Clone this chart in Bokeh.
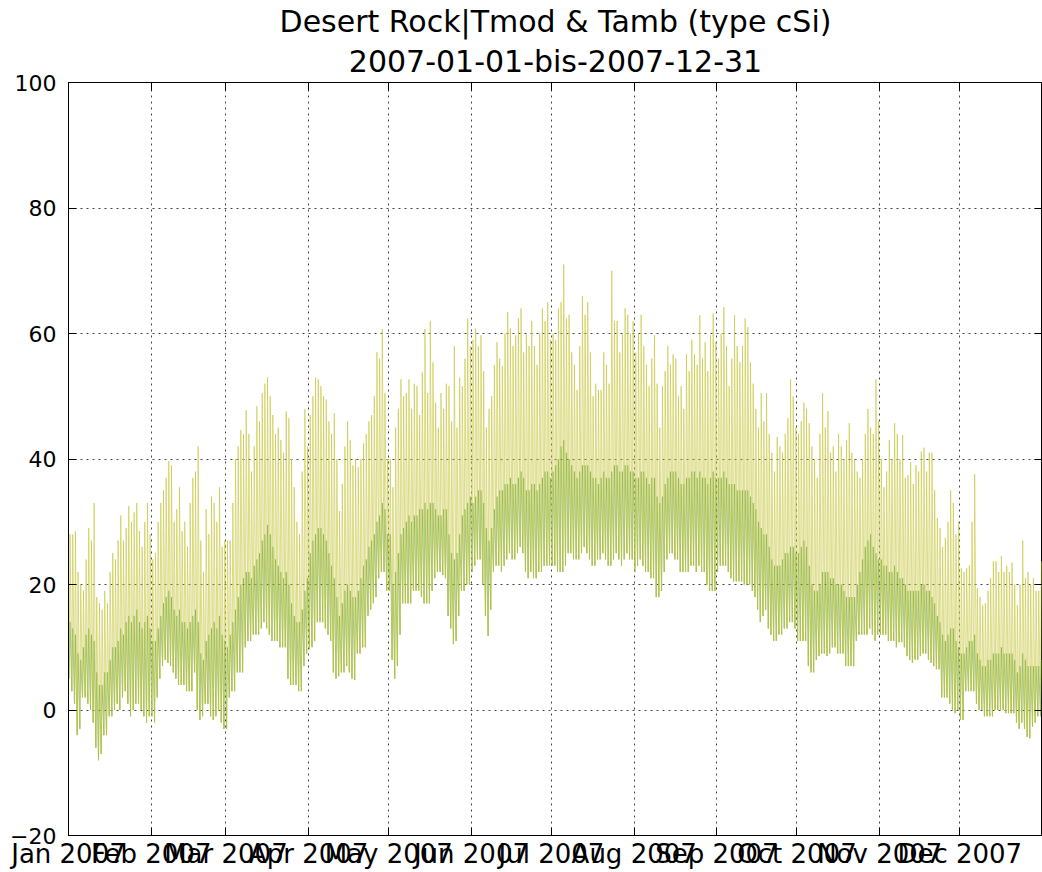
import numpy as np
import pandas as pd
from bokeh.plotting import figure
from bokeh.models import Range1d, FixedTicker, Title, LinearAxis, DatetimeAxis
from bokeh.embed import file_html
from bokeh.resources import INLINE

title_line1 = "Desert Rock|Tmod & Tamb (type cSi)"
title_line2 = "2007-01-01-bis-2007-12-31"
month_labels = ["Jan 2007", "Feb 2007", "Mar 2007", "Apr 2007", "May 2007", "Jun 2007",
                "Jul 2007", "Aug 2007", "Sep 2007", "Oct 2007", "Nov 2007", "Dec 2007"]
y_ticks = [-20, 0, 20, 40, 60, 80, 100]
y_tick_labels = ["\u221220", "0", "20", "40", "60", "80", "100"]

# daily peak module temperature (Tmod), one row per month
tmod_max = [
    28, 28, 28.5, 22, 20, 19, 24, 29, 27, 33, 18, 17, 16, 19, 17, 22, 25, 24, 27, 31, 27, 29, 32.5, 30, 31.5, 33, 28.5, 26, 30, 33, 28,
    24, 25, 30, 33, 35, 37, 39.7, 39, 30, 32, 35.5, 28.5, 30, 26, 33, 37, 38, 42, 27, 22, 32, 28, 34, 33, 30, 35.5, 26, 27,
    27, 27, 33, 40, 42, 44.6, 44, 47.8, 44, 38, 42, 48.4, 46, 50.5, 52, 53, 50, 47, 44, 45, 43, 41, 47.6, 46.5, 40, 35.5, 30, 28, 38, 48, 42,
    47, 50, 53, 52.7, 51.6, 50, 49.5, 46, 44, 47.3, 40, 31.7, 36, 42, 46, 43, 39, 40, 38.7, 40, 42.5, 44, 46, 47, 50, 57, 56, 60.7, 50.5, 40,
    40, 35.5, 45, 48, 52.7, 50, 50.5, 52.7, 48, 52, 51.6, 47, 53.8, 60.7, 50.5, 62, 55.4, 49, 45, 50.5, 48, 52, 51.6, 46, 58, 45, 53, 51.6, 56, 62.4, 58,
    59, 60.8, 58, 59.7, 54, 45, 48, 50, 55, 58.6, 56, 54.8, 60, 63.4, 60.8, 58, 59.7, 62.4, 64, 57, 60, 58, 62, 58, 55, 60, 64, 62, 65, 59,
    60, 59, 64, 65, 71, 62.4, 63, 57, 55, 51, 58, 66, 63, 65, 57, 50, 52, 51, 51, 57, 55, 52, 70, 62, 62, 57, 60, 64, 63, 60, 62,
    57, 60, 63, 58, 55, 51.6, 56, 59.7, 52, 45, 51.6, 54, 58, 55, 56.7, 56, 50, 51.6, 48, 56.7, 54, 59, 56.7, 55, 62.9, 56, 58.6, 54, 59.7, 63.2, 58.6,
    56, 60, 64.2, 58, 51.6, 56, 62.9, 58, 55.4, 58, 62.4, 61, 55.4, 52, 48, 45, 50.5, 46, 50.5, 44, 41, 38, 43.5, 42, 41, 44, 46.5, 52.7, 50, 45,
    44, 46, 49, 48, 45.7, 42, 40, 37, 44, 50.5, 45, 47.6, 41, 42, 38, 44, 42, 40, 43, 45.7, 41, 40, 38, 37, 40, 44, 48, 45, 44, 52.7, 46,
    40, 35.5, 38, 43, 40, 45.7, 44, 40, 43.8, 37, 37.4, 39.5, 36, 39, 38, 41.2, 41.8, 38, 41, 41, 35, 30.6, 29, 26, 27.4, 30, 35, 33, 28, 30,
    22.6, 22, 22.6, 23, 30, 37.6, 19.4, 18, 16.7, 17, 19, 21, 23.7, 23.7, 22, 24.5, 22, 23, 22, 23.5, 20, 16.7, 20, 27, 21, 22, 20, 21, 19, 19, 23.7,
]

# daily peak ambient temperature (Tamb)
tamb_max = [
    14, 13, 12, 9, 8, 10, 12, 13, 12, 11, 6, 4, 4, 6, 6, 8, 10, 10, 11, 13, 12, 14, 15, 14, 15, 16, 14, 13, 14, 15, 13,
    11, 11, 13, 15, 17, 18, 19, 18, 16, 15, 16, 14, 14, 13, 14, 15, 16, 14, 9, 8, 11, 12, 13, 14, 13, 15, 12, 11,
    10, 12, 14, 16, 18, 20, 21, 22, 22, 21, 23, 24, 25, 27, 28, 29.5, 28, 26, 24, 23, 22, 21, 22, 20, 17, 15, 14, 14, 16, 19, 21,
    25, 27, 28, 29, 29, 28, 27, 25, 23, 21, 18, 15, 17, 19, 20, 19, 18, 18, 19, 21, 23, 24, 26, 27, 28, 30, 31, 33, 32, 28,
    28, 20, 22, 25, 28, 29, 30, 31, 30, 31, 31, 32, 32, 33, 32, 33, 33, 32, 31, 31, 32, 32, 28, 25, 24, 25, 28, 31, 32, 33, 34,
    33, 34, 35, 35, 33, 29, 27, 29, 32, 34, 35, 35, 36, 36, 37, 36, 36, 37, 38, 37, 35, 35, 36, 36, 35, 36, 37, 38, 38, 37,
    38, 39, 40, 42, 43, 41, 40, 39, 38, 37, 38, 39, 39, 39, 38, 37, 37, 36, 37, 38, 37, 37, 38, 39, 39, 38, 38, 39, 39, 38, 38,
    37, 37, 38, 38, 37, 36, 37, 37, 34, 33, 34, 36, 37, 38, 38, 38, 37, 36, 36, 37, 37, 38, 38, 37, 38, 37, 37, 36, 37, 38, 37,
    37, 37, 38, 37, 36, 36, 36, 35, 35, 35, 35, 35, 34, 33, 32, 30, 29, 28, 28, 26, 24, 23, 23, 23, 24, 25, 25, 26, 26, 25,
    25, 26, 27, 26, 23, 20, 19, 19, 20, 22, 22, 22, 21, 21, 20, 20, 20, 19, 18, 18, 18, 18, 20, 22, 24, 26, 27, 28, 26, 25, 24,
    24, 23, 23, 22, 22, 23, 22, 21, 21, 20, 19, 19, 19, 19, 19, 20, 20, 19, 19, 18, 17, 15, 14, 12, 11, 12, 13, 13, 11, 10,
    9, 9, 10, 11, 11, 12, 9, 8, 7, 7, 8, 8, 9, 9, 9, 10, 9, 9, 9, 9, 8, 6, 7, 9, 8, 7, 7, 7, 7, 7, 8,
]

# daily night-time minimum (both sensors)
night_min = [
    5, 3, 1, -4, -3, 2, 2, 1, 0, -2, -6, -8, -7, -4, -4, -1, -1, 0, 1, 0, 2, 3, 1, -1, 0, 1, 1, 0, -1, -2, -1,
    -1, -2, 2, 5, 7, 8, 7.5, 7, 6, 5, 4, 4, 4, 3, 3, 3, 6, 0, -1.6, -1, 1, 1, -1, -1.6, -1, 0, -2, -3,
    -3, 2, 3, 3, 6, 6, 6, 10, 11, 11, 12, 12, 12, 13, 14, 13, 12, 11, 11, 11, 10, 10, 10, 5, 4, 4, 4, 3, 3, 7, 9,
    9.7, 10, 11, 14, 14, 14, 13, 12, 11, 6, 5, 5.4, 6, 6, 7, 6, 5, 4.8, 9, 9, 10, 10, 15, 16, 17, 18, 21, 22, 22, 19,
    19, 8, 5, 7, 12, 17, 17, 17, 17, 19, 19, 19, 18, 17, 17, 17, 19, 21, 22, 22, 21.5, 21, 15, 13, 10.5, 11, 15, 19, 19, 20, 20,
    22, 23, 24, 24, 20, 15, 11.8, 16, 22, 23, 23, 22, 23, 24, 25, 24, 24, 25, 26, 25, 22, 21, 22, 21, 21, 22, 22, 23, 23, 23,
    23, 23, 22, 22, 22, 23, 25, 25, 24, 24, 24, 25, 26, 25, 24, 23, 23, 24, 24, 25, 24, 23, 23, 24, 25, 24, 23, 24, 25, 24, 24,
    22, 23, 24, 23, 22, 22, 21, 21, 18, 18, 19, 22, 24, 25, 25, 24, 24, 22, 22, 22, 22, 23, 23, 22, 23, 22, 22, 20, 19, 19, 19,
    22, 23, 23, 23, 22, 21, 20.5, 20.5, 20.5, 20.5, 20, 20, 20, 19, 18, 16, 14, 15, 16, 13, 12, 11, 11, 12, 12, 13, 13, 14, 14, 13,
    11, 11, 11, 11, 7, 6, 6, 8, 8.6, 9, 9, 8.6, 9, 10, 10, 9, 9, 9, 7, 7, 7, 7, 11, 12, 12, 12, 12, 13, 12, 11, 12,
    12, 12, 12, 11, 11, 11, 10, 10.8, 10.8, 10, 8.6, 8, 7.5, 8, 8, 8.6, 9, 9, 8, 7.5, 7, 6.5, 6.5, 2, 2, 2, 1, 0, -0.5, 0,
    -1.6, -1.6, 3, 3, 3, 3, 1, 0, 0, -1, -1, -1, -1, 0, 0, 0, 0, -0.5, -0.5, -0.5, -0.5, -2, -3, -2, -3, -4.3, -4.5, -2.7, -2, -1, -1,
]

# ---- build the daily cycle (night minimum -> afternoon peak) ----
days = pd.date_range("2007-01-01", periods=len(tmod_max), freq="D")
t_night = (days + pd.Timedelta(hours=6)).values
t_peak = (days + pd.Timedelta(hours=14)).values
xs = np.empty(2 * len(days), dtype="datetime64[ns]")
xs[0::2] = t_night
xs[1::2] = t_peak
tmod_y = np.empty(2 * len(days))
tmod_y[0::2] = night_min
tmod_y[1::2] = tmod_max
tamb_y = np.empty(2 * len(days))
tamb_y[0::2] = night_min
tamb_y[1::2] = tamb_max

month_starts = pd.date_range("2007-01-01", periods=12, freq="MS")
month_ticks = [int(t.value // 10**6) for t in month_starts]
x_start = pd.Timestamp("2007-01-01")
x_end = pd.Timestamp("2008-01-01")

FONT = "DejaVu Sans"

p = figure(width=1042, height=872, x_axis_type="datetime", title=None,
           output_backend="svg", toolbar_location=None,
           x_range=Range1d(x_start, x_end), y_range=Range1d(-20, 100),
           min_border_left=68, min_border_right=0, min_border_top=82, min_border_bottom=37)
p.background_fill_color = "white"
p.border_fill_color = "white"
p.outline_line_color = "black"
p.outline_line_width = 1

p.line(xs, tamb_y, line_color="#4a9a26", line_alpha=0.5, line_width=1)
p.line(xs, tmod_y, line_color="#c4c538", line_alpha=0.6, line_width=1)

# axes
xax = p.xaxis[0]
xax.ticker = FixedTicker(ticks=month_ticks)
xax.major_label_overrides = {t: lab for t, lab in zip(month_ticks, month_labels)}
yax = p.yaxis[0]
yax.ticker = FixedTicker(ticks=y_ticks)
yax.major_label_overrides = {t: lab for t, lab in zip(y_ticks, y_tick_labels)}
for ax in (xax, yax):
    ax.major_label_text_font = FONT
    ax.major_label_text_color = "black"
    ax.major_tick_in = 8
    ax.major_tick_out = 0
    ax.minor_tick_line_color = None
    ax.axis_line_color = "black"
    ax.major_tick_line_color = "black"
xax.major_label_text_font_size = "26px"
yax.major_label_text_font_size = "22px"
xax.major_label_standoff = 3
yax.major_label_standoff = 12

rax = LinearAxis(ticker=FixedTicker(ticks=y_ticks), major_label_text_font_size="0px",
                 major_label_standoff=0, major_tick_in=8, major_tick_out=0,
                 minor_tick_line_color=None, axis_line_color="black")
p.add_layout(rax, "right")
tax = DatetimeAxis(ticker=FixedTicker(ticks=month_ticks), major_label_text_font_size="0px",
                   major_label_standoff=0, major_tick_in=8, major_tick_out=0,
                   minor_tick_line_color=None, axis_line_color="black")
p.add_layout(tax, "above")

# grid
for g in (p.xgrid[0], p.ygrid[0]):
    g.grid_line_color = "#333333"
    g.grid_line_alpha = 0.9
    g.grid_line_dash = "2 4"
    g.grid_line_width = 1

# two-line title (inner line added first)
p.add_layout(Title(text=title_line2, align="center", text_font=FONT, text_font_size="30px",
                   text_font_style="normal", text_color="black", standoff=7), "above")
p.add_layout(Title(text=title_line1, align="center", text_font=FONT, text_font_size="30px",
                   text_font_style="normal", text_color="black", standoff=0), "above")

open("out.html", "w").write(file_html(p, INLINE))
